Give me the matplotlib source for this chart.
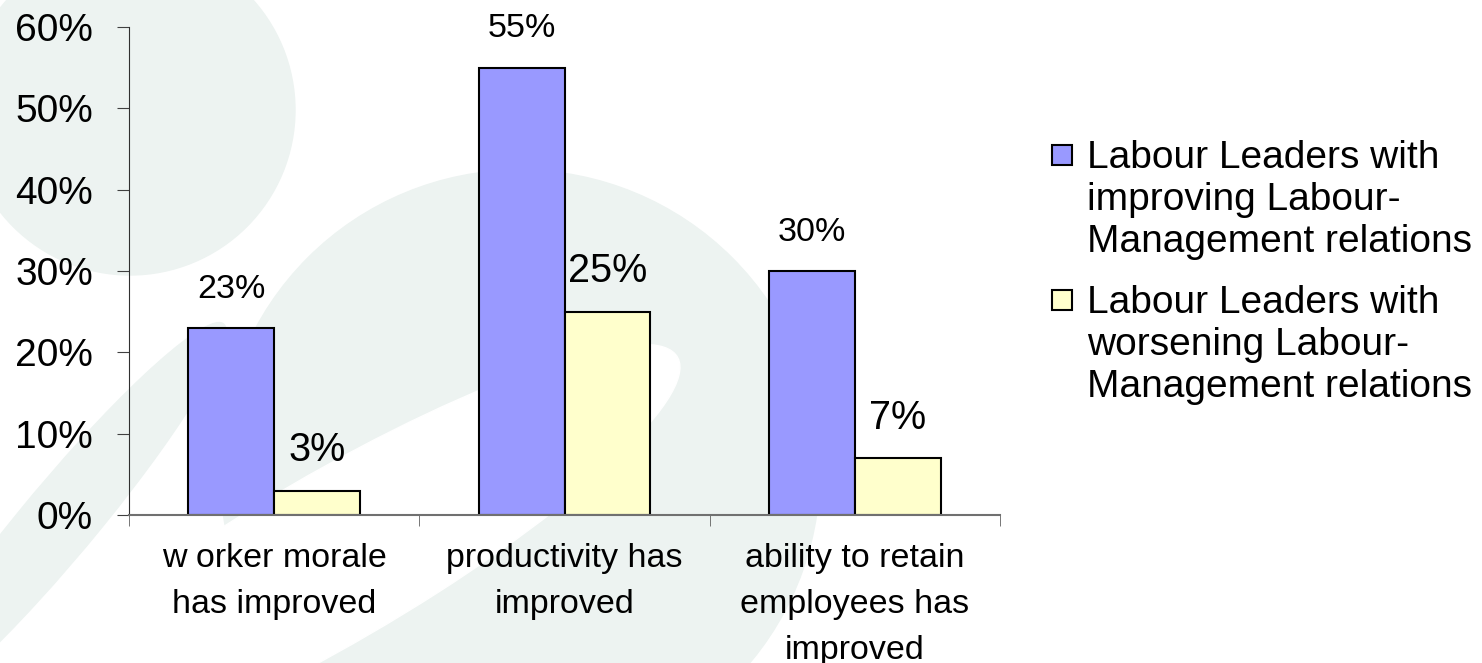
import matplotlib.pyplot as plt
import numpy as np
from matplotlib.patches import Ellipse, Rectangle

plt.rcParams['font.family'] = ['Liberation Sans', 'DejaVu Sans']

categories = ['w orker morale\nhas improved', 'productivity has\nimproved',
              'ability to retain\nemployees has\nimproved']
improving = [23, 55, 30]
worsening = [3, 25, 7]
series_names = ['Labour Leaders with\nimproving Labour-\nManagement relations',
                'Labour Leaders with\nworsening Labour-\nManagement relations']
colors = ['#9999ff', '#ffffcc']

fig = plt.figure(figsize=(14.82, 6.63), dpi=100)
W, H = 1482.0, 663.0

# faint logo shapes behind the chart
wm = '#edf3f1'
for cx, cy, r in [(130, 110, 165), (520, 470, 300)]:
    fig.patches.append(Ellipse((cx / W, 1 - cy / H), 2 * r / W, 2 * r / H,
                               transform=fig.transFigure, color=wm, zorder=-2))
fig.patches.append(Ellipse((330 / W, 1 - 560 / H), 260 / W, 520 / H, angle=-35,
                           transform=fig.transFigure, color='white', zorder=-1.5))
fig.patches.append(Ellipse((60 / W, 1 - 520 / H), 90 / W, 420 / H, angle=-20,
                           transform=fig.transFigure, color=wm, zorder=-1.4))

ax = fig.add_axes([129 / W, 1 - 515 / H, 871 / W, 488 / H])
ax.patch.set_alpha(0)

x = np.arange(len(categories))
w = 0.296
b1 = ax.bar(x - w / 2, improving, w, color=colors[0], edgecolor='black', linewidth=1.5)
b2 = ax.bar(x + w / 2, worsening, w, color=colors[1], edgecolor='black', linewidth=1.5)

for rect, v in zip(b1, improving):
    ax.annotate(f'{v}%', (rect.get_x() + rect.get_width() / 2, v),
                textcoords='offset points', xytext=(0, 28), ha='center', va='center',
                fontsize=24.5)
for rect, v in zip(b2, worsening):
    ax.annotate(f'{v}%', (rect.get_x() + rect.get_width() / 2, v),
                textcoords='offset points', xytext=(0, 29), ha='center', va='center',
                fontsize=28.5)

ax.set_xlim(-0.5, 2.5)
ax.set_ylim(0, 60)
ax.set_yticks(range(0, 61, 10))
ax.set_yticklabels([f'{t}%' for t in range(0, 61, 10)])
ax.tick_params(axis='y', labelsize=28, length=9, pad=17, color='#404040')

ax.set_xticks(x)
ax.set_xticklabels(categories, fontsize=24.5, linespacing=1.62, va='top')
ax.set_xticks([-0.5, 0.5, 1.5, 2.5], minor=True)
ax.tick_params(axis='x', which='major', length=0, pad=20)
ax.tick_params(axis='x', which='minor', length=8, color='#606060')

for s in ['top', 'right']:
    ax.spines[s].set_visible(False)
ax.spines['left'].set_color('#303030')
ax.spines['bottom'].set_color('#707070')
ax.spines['bottom'].set_linewidth(1.5)

# legend on the right
for i, (name, c) in enumerate(zip(series_names, colors)):
    ytop = 145 + i * 145
    fig.patches.append(Rectangle((1052 / W, 1 - (ytop + 20) / H), 20 / W, 20 / H,
                                 transform=fig.transFigure, facecolor=c,
                                 edgecolor='black', linewidth=1.5))
    fig.text(1087 / W, 1 - (ytop - 5) / H, name, fontsize=28, va='top', ha='left',
             linespacing=1.22)

fig.savefig('out.png', dpi=100)
